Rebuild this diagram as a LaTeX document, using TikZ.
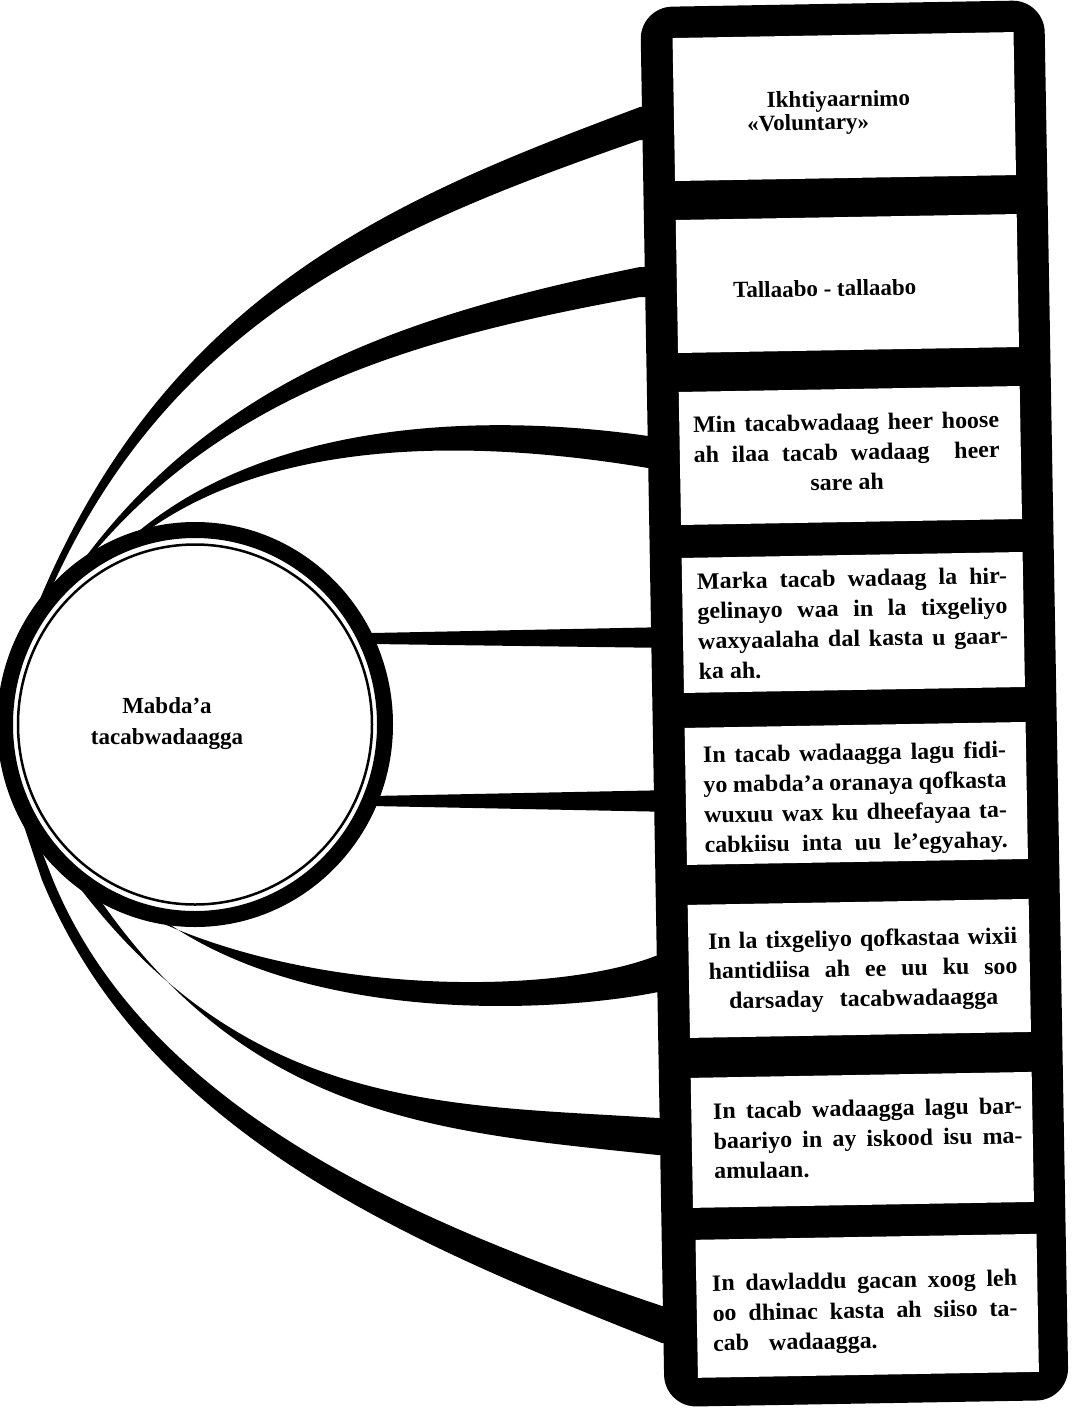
\documentclass[tikz,border=0pt]{standalone}
\usepackage{fontspec}
\setmainfont{Liberation Serif}
\newfontfamily\bxfont{Liberation Serif}[FakeStretch=1.02]
\usetikzlibrary{shapes.geometric}
\newcommand\sr{\rule{0pt}{21pt}}
\newcommand\J[2]{\makebox[#1][s]{#2}}
\newcommand\Cl[2]{\makebox[#1][c]{#2}}
\newcommand\Ll[2]{\makebox[#1][l]{#2}}
\begin{document}
\begin{tikzpicture}[x=1pt,y=-1pt,
  band/.style={fill=black},
  hubring/.style={ellipse, draw=black, line width=16pt, fill=white,
    minimum width=380pt, minimum height=389pt, inner sep=0pt},
  panelbox/.style={fill=black, rounded corners=32pt, minimum width=404pt,
    minimum height=1400pt, inner sep=0pt, anchor=north west},
  cell/.style={fill=white, inner sep=0pt, minimum width=341pt},
  txt/.style={inner sep=0pt, align=left, font=\fontsize{23}{30}\selectfont\bfseries},
  btxt/.style={txt, anchor=north west, font=\bxfont\fontsize{23.5}{30}\selectfont\bfseries},
]
\fill[white] (0,0) rectangle (1071,1410);
\useasboundingbox (0,0) rectangle (1071,1410);

% connectors (tapered bands) from the hub to the panel
\fill[band] (668,107) -- (640,107) .. controls (400,197) and (163,290) .. (33,616)
  -- (42,610) .. controls (164,316) and (400,224) .. (640,140) -- (668,140) -- cycle;
\fill[band] (668,267) -- (640,267) .. controls (415,313) and (216,375) .. (76,570)
  -- (85,563) .. controls (225,392) and (415,338) .. (640,297) -- (668,297) -- cycle;
\fill[band] (672,436) -- (648,436) .. controls (480,412) and (260,420) .. (125,543)
  -- (135,540) .. controls (270,434) and (480,440) .. (648,468) -- (672,468) -- cycle;
\fill[band] (372,633) -- (672,627) -- (672,648) -- (372,644) -- cycle;
\fill[band] (372,796) -- (675,790) -- (675,812) -- (372,806) -- cycle;
\fill[band] (680,955) -- (658,955) .. controls (560,995) and (300,1000) .. (125,905)
  -- (150,910) .. controls (300,1028) and (560,1012) .. (658,992) -- (680,992) -- cycle;
\fill[band] (682,1118) -- (658,1118) .. controls (440,1104) and (240,1112) .. (65,868)
  -- (90,885) .. controls (245,1120) and (440,1132) .. (658,1155) -- (682,1155) -- cycle;
\fill[band] (685,1306) -- (662,1306) .. controls (415,1223) and (148,1110) .. (53,880)
  -- (20,795) -- (12,790) -- (42,880) .. controls (148,1138) and (420,1247) .. (662,1343)
  -- (685,1343) -- cycle;

% hub
\node[hubring] (hub) at (195,724.5) {};
\draw[line width=2.5pt] (hub.center) ellipse [x radius=177pt, y radius=180pt];
\node[txt, align=center, font=\fontsize{23}{31}\selectfont\bfseries, anchor=north]
  (hubtext) at (167,692) {\sr Mabda’a\\tacabwadaagga};

% panel
\begin{scope}[shift={(640,7)}, rotate=1, transform shape]
\node[panelbox] (panel) at (0,0) {};
\node[cell, minimum height=143pt] (b1) at (202.5,103.1) {};
\node[cell, minimum height=133pt] (b2) at (202.5,280.1) {};
\node[cell, minimum height=133pt] (b3) at (202.5,452.1) {};
\node[cell, minimum height=135pt] (b4) at (202.5,619.1) {};
\node[cell, minimum height=137pt] (b5) at (202.5,790.1) {};
\node[cell, minimum height=133pt] (b6) at (202.5,965.1) {};
\node[cell, minimum height=130pt] (b7) at (202.5,1136.6) {};
\node[cell, minimum height=138pt] (b8) at (204.5,1302.6) {};

\node[txt, anchor=north west, font=\fontsize{23}{23}\selectfont\bfseries] (t1)
  at (105,82) {\sr\hspace*{20pt}Ikhtiyaarnimo\\«Voluntary»};
\node[txt, anchor=base west] (t2) at (88,292.5) {Tallaabo - tallaabo};
\node[btxt] (t3) at (45.6,405.5)
  {\sr\J{306pt}{Min tacabwadaag heer hoose}\\
   \J{306pt}{ah ilaa tacab wadaag\hspace{12pt} heer}\\
   \Cl{306pt}{sare ah}};
\node[btxt] (t4) at (46.8,561.8)
  {\sr\J{310pt}{Marka tacab wadaag la hir-}\\
   \J{310pt}{gelinayo waa in la tixgeliyo}\\
   \J{310pt}{waxyaalaha dal kasta u gaar-}\\
   \Ll{310pt}{ka ah.}};
\node[btxt] (t5) at (49.8,735.6)
  {\sr\J{303pt}{In tacab wadaagga lagu fidi-}\\
   \J{303pt}{yo mabda’a oranaya qofkasta}\\
   \J{303pt}{wuxuu wax ku dheefayaa ta-}\\
   \J{303pt}{cabkiisu inta uu le’egyahay.}};
\node[btxt] (t6) at (51.6,921.9)
  {\sr\J{309pt}{In la tixgeliyo qofkastaa wixii}\\
   \J{309pt}{hantidiisa ah ee uu ku soo}\\
   \Cl{309pt}{darsaday\hspace{10pt} tacabwadaagga}};
\node[btxt] (t7) at (53.6,1091.9)
  {\sr\J{309pt}{In tacab wadaagga lagu bar-}\\
   \J{309pt}{baariyo in ay iskood isu ma-}\\
   \Ll{309pt}{amulaan.}};
\node[btxt] (t8) at (49.6,1263.9)
  {\sr\J{305pt}{In dawladdu gacan xoog leh}\\
   \J{305pt}{oo dhinac kasta ah siiso ta-}\\
   \Ll{305pt}{cab\hspace{14pt} wadaagga.}};
\end{scope}
\end{tikzpicture}
\end{document}
